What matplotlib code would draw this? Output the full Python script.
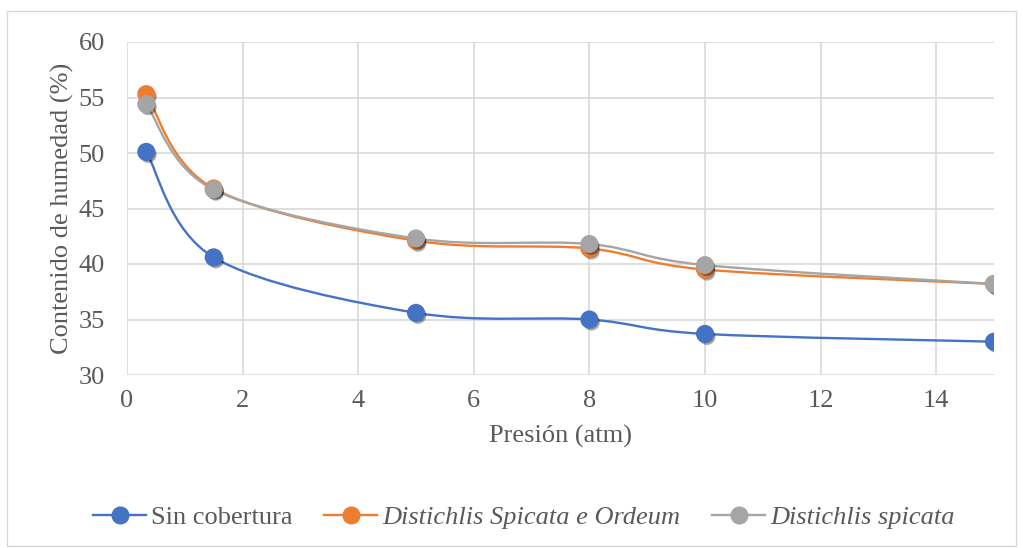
import numpy as np
import matplotlib.pyplot as plt
from matplotlib.path import Path
from matplotlib.patches import PathPatch, Rectangle
from matplotlib.lines import Line2D
import matplotlib.patheffects as pe

plt.rcParams['font.family'] = ['Liberation Serif', 'DejaVu Serif']

# Datos
presion = [1 / 3, 1.5, 5, 8, 10, 15]
sin_cobertura = [50.1, 40.6, 35.6, 35.0, 33.7, 33.0]
spicata_ordeum = [55.3, 46.8, 42.1, 41.4, 39.5, 38.2]
spicata = [54.4, 46.7, 42.3, 41.8, 39.9, 38.2]

etiquetas = ['Sin cobertura', 'Distichlis Spicata e Ordeum', 'Distichlis spicata']
estilos = ['normal', 'italic', 'italic']
colores = ['#4472C4', '#ED7D31', '#A5A5A5']
series = [sin_cobertura, spicata_ordeum, spicata]

texto = '#595959'
rejilla = '#D9D9D9'
fs = 19


def curva_suave(x, y):
    """Trazo suavizado tipo Excel (Bezier cúbica, tensión 1/6)."""
    p = np.column_stack([x, y]).astype(float)
    ext = np.vstack([p[0], p, p[-1]])
    verts = [p[0]]
    codes = [Path.MOVETO]
    for i in range(len(p) - 1):
        a, b, c, d = ext[i], ext[i + 1], ext[i + 2], ext[i + 3]
        verts += [b + (c - a) / 6, c - (d - b) / 6, c]
        codes += [Path.CURVE4] * 3
    return Path(verts, codes)


fig = plt.figure(figsize=(10.23, 5.48), dpi=100)
fig.patches.append(Rectangle((7 / 1023, 2 / 548), 1009 / 1023, 535 / 548,
                             transform=fig.transFigure, fill=False,
                             edgecolor=rejilla, linewidth=1))

ax = fig.add_axes([127 / 1023, 1 - 375 / 548, 867 / 1023, 333 / 548])

# sombra suave bajo los marcadores
sombra = [pe.SimplePatchShadow(offset=(1.5, -2), shadow_rgbFace='k', alpha=0.3),
          pe.SimplePatchShadow(offset=(1, -1), shadow_rgbFace='k', alpha=0.2),
          pe.Normal()]

for serie, color in zip(series, colores):
    ax.add_patch(PathPatch(curva_suave(presion, serie), fill=False,
                           edgecolor=color, linewidth=1.7, zorder=3))
    ax.plot(presion, serie, linestyle='none', marker='o', markersize=12,
            markerfacecolor=color, markeredgecolor=color, zorder=4,
            path_effects=sombra)

ax.set_xlim(0, 15)
ax.set_ylim(30, 60)
ax.set_xticks(np.arange(0, 15, 2))
ax.set_yticks(np.arange(30, 61, 5))
ax.grid(True, color=rejilla, linewidth=1.2)
ax.set_axisbelow(True)
for s in ax.spines.values():
    s.set_visible(False)
ax.tick_params(length=0, labelsize=fs, labelcolor=texto)
ax.tick_params(axis='y', pad=16)
ax.tick_params(axis='x', pad=11)

ax.set_xlabel('Presión (atm)', fontsize=fs, color=texto, labelpad=9)
ax.set_ylabel('Contenido de humedad (%)', fontsize=fs, color=texto, labelpad=3)

handles = [Line2D([], [], color=c, linewidth=1.7, marker='o', markersize=12,
                  markerfacecolor=c, markeredgecolor=c) for c in colores]
leg = fig.legend(handles, etiquetas, loc='center', bbox_to_anchor=(524 / 1023, 1 - 517 / 548),
                 ncol=3, frameon=False, fontsize=fs, handlelength=2.0,
                 handletextpad=0.2, columnspacing=1.2)
for t, estilo in zip(leg.get_texts(), estilos):
    t.set_color(texto)
    t.set_fontstyle(estilo)

fig.savefig('out.png', dpi=100, facecolor='white')
